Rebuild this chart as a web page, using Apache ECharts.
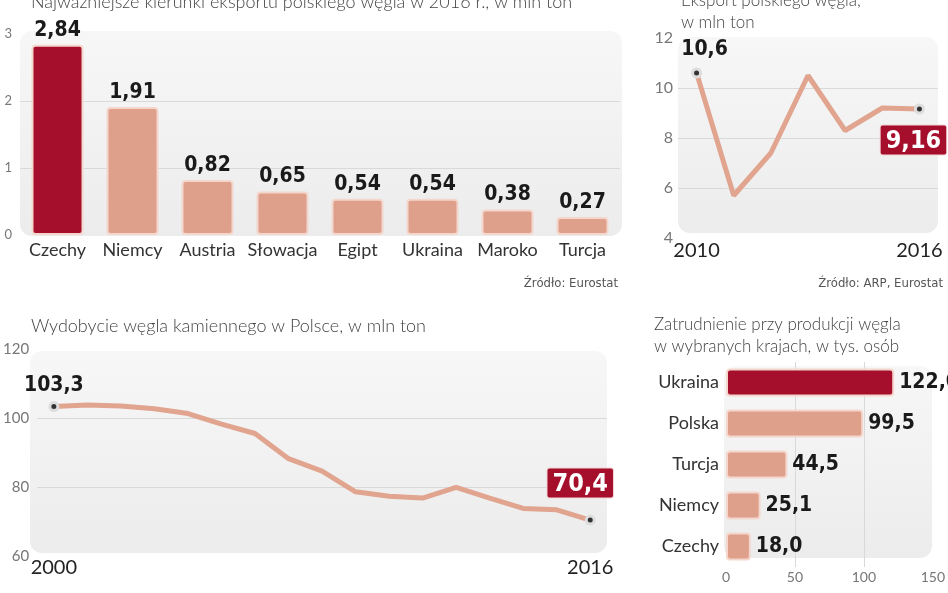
<!DOCTYPE html>
<html><head><meta charset="utf-8">
<script src="https://cdn.jsdelivr.net/npm/echarts@6/dist/echarts.min.js"></script>
<style>html,body{margin:0;padding:0;background:#fff}#c{width:948px;height:593px}</style>
</head><body><div id="c"></div>
<script>
// ---- data ----
const exportCountries = ['Czechy','Niemcy','Austria','Słowacja','Egipt','Ukraina','Maroko','Turcja'];
const exportValues = [2.84,1.91,0.82,0.65,0.54,0.54,0.38,0.27];
const exportYears = ['2010','2011','2012','2013','2014','2015','2016'];
const exportTotals = [10.6,5.7,7.4,10.5,8.3,9.2,9.16];
const miningYears = ['2000','2001','2002','2003','2004','2005','2006','2007','2008','2009','2010','2011','2012','2013','2014','2015','2016'];
const miningValues = [103.3,103.8,103.5,102.7,101.3,98.2,95.5,88.2,84.6,78.6,77.3,76.8,79.9,76.8,73.8,73.4,70.4];
const employCountries = ['Ukraina','Polska','Turcja','Niemcy','Czechy'];
const employValues = [122.0,99.5,44.5,25.1,18.0];
const exportTicks = [0,1,2,3];
const totalTicks = [4,6,8,10,12];
const miningTicks = [60,80,100,120];
const employTicks = [0,50,100,150];

// ---- style ----
const DARK = '#a50f2c', SALMON = '#dea08a', LINE = '#e0a48f', BORDER = '#f4d6cc';
const NARROW = "'Liberation Sans Narrow','DejaVu Sans Condensed','Roboto Condensed',sans-serif";
const SANS = "Lato,'Open Sans',sans-serif";
const comma = (v, d) => v.toFixed(d).replace('.', ',');
const bg = (x, y, w, h) => ({
  type: 'rect', z: -10, shape: {x, y, width: w, height: h, r: 12},
  style: {fill: new echarts.graphic.LinearGradient(0,0,0,1,[{offset:0,color:'#f7f7f7'},{offset:1,color:'#ececec'}])}
});
const valLabel = {show: true, fontFamily: NARROW, fontWeight: 'bold', fontSize: 21, color: '#1a1a1a'};
const boxLabel = {show: true, fontFamily: NARROW, fontWeight: 'bold', fontSize: 25, color: '#fff',
  backgroundColor: DARK, padding: [3, 5, 1, 5], borderColor: '#f0d4d4', borderWidth: 1, borderRadius: 2};
const gridLine = {show: true, showMinLine: false, showMaxLine: false, lineStyle: {color: '#d9d9d9', width: 1}};
const yLab = (size, margin) => ({color: '#777', fontFamily: SANS, fontSize: size, margin});
const titleStyle = (size) => ({fontFamily: SANS, fontWeight: 300, fontSize: size, color: '#444', lineHeight: 22});

const chart = echarts.init(document.getElementById('c'));
chart.setOption({
  animation: false,
  title: [
    {text: 'Najważniejsze kierunki eksportu polskiego węgla w 2016 r., w mln ton', left: 26, top: -14, textStyle: titleStyle(18)},
    {text: 'Eksport polskiego węgla,\nw mln ton', left: 676, top: -15, textStyle: titleStyle(17)},
    {text: 'Wydobycie węgla kamiennego w Polsce, w mln ton', left: 26, top: 310, textStyle: titleStyle(18)},
    {text: 'Zatrudnienie przy produkcji węgla\nw wybranych krajach, w tys. osób', left: 649, top: 309, textStyle: titleStyle(17)},
    {text: 'Źródło: Eurostat', right: 325, top: 272,
      textStyle: {fontFamily: NARROW, fontWeight: 'normal', fontSize: 13, color: '#555'}},
    {text: 'Źródło: ARP, Eurostat', right: 0, top: 272,
      textStyle: {fontFamily: NARROW, fontWeight: 'normal', fontSize: 13, color: '#555'}}
  ],
  graphic: [bg(20, 31, 602, 205), bg(678, 37, 260, 196), bg(30, 351, 577, 202), bg(724, 366, 208, 192)],
  grid: [
    {left: 20, top: 34, width: 600, height: 201},
    {left: 678, top: 38, width: 260, height: 200},
    {left: 30, top: 349, width: 577, height: 207},
    {left: 726, top: 362, width: 207, height: 205}
  ],
  xAxis: [
    {gridIndex: 0, type: 'category', data: exportCountries, axisLine: {show: false}, axisTick: {show: false},
      axisLabel: {color: '#333', fontFamily: SANS, fontSize: 18, margin: 6, interval: 0}},
    {gridIndex: 1, type: 'category', data: exportYears, axisLine: {show: false}, axisTick: {show: false},
      axisLabel: {color: '#222', fontFamily: SANS, fontSize: 20, margin: 3,
        interval: (i) => i === 0 || i === exportYears.length - 1}},
    {gridIndex: 2, type: 'category', data: miningYears, axisLine: {show: false}, axisTick: {show: false},
      axisLabel: {color: '#222', fontFamily: SANS, fontSize: 20, margin: 2,
        interval: (i) => i === 0 || i === miningYears.length - 1}},
    {gridIndex: 3, type: 'value', min: employTicks[0], max: employTicks[employTicks.length-1], interval: 50,
      axisLine: {show: false}, axisTick: {show: false}, splitLine: gridLine, axisLabel: yLab(14, 3)}
  ],
  yAxis: [
    {gridIndex: 0, type: 'value', min: exportTicks[0], max: exportTicks[exportTicks.length-1], interval: 1,
      axisLine: {show: false}, axisTick: {show: false}, splitLine: gridLine, axisLabel: yLab(13, 8)},
    {gridIndex: 1, type: 'value', min: totalTicks[0], max: totalTicks[totalTicks.length-1], interval: 2,
      axisLine: {show: false}, axisTick: {show: false}, splitLine: gridLine, axisLabel: yLab(16, 5)},
    {gridIndex: 2, type: 'value', min: miningTicks[0], max: miningTicks[miningTicks.length-1], interval: 20,
      axisLine: {show: false}, axisTick: {show: false}, splitLine: gridLine, axisLabel: yLab(15, 8)},
    {gridIndex: 3, type: 'category', data: employCountries, inverse: true, axisLine: {show: false}, axisTick: {show: false},
      axisLabel: {color: '#333', fontFamily: SANS, fontSize: 18, margin: 7}}
  ],
  series: [
    {type: 'bar', xAxisIndex: 0, yAxisIndex: 0, barWidth: 52, z: 5,
      data: exportValues.map((v, i) => ({value: v, itemStyle: {color: i === 0 ? DARK : SALMON}})),
      itemStyle: {borderColor: BORDER, borderWidth: 2, borderRadius: 3},
      label: Object.assign({}, valLabel, {position: 'top', distance: 4, formatter: (p) => comma(p.value, 2)})},
    {type: 'line', xAxisIndex: 1, yAxisIndex: 1, z: 5,
      lineStyle: {color: LINE, width: 5}, symbol: 'none',
      data: exportTotals.map((v, i) => {
        if (i === 0) return {value: v, symbol: 'circle', symbolSize: 8,
          itemStyle: {color: '#333', borderColor: '#ddd', borderWidth: 3},
          label: Object.assign({}, valLabel, {position: 'top', distance: 7, offset: [8, 0], formatter: comma(v, 1)})};
        if (i === exportTotals.length - 1) return {value: v, symbol: 'circle', symbolSize: 8,
          itemStyle: {color: '#333', borderColor: '#ddd', borderWidth: 3},
          label: Object.assign({}, boxLabel, {position: 'bottom', distance: 11, offset: [-6, 0], formatter: comma(v, 2)})};
        return v;
      })},
    {type: 'line', xAxisIndex: 2, yAxisIndex: 2, z: 5,
      lineStyle: {color: LINE, width: 5}, symbol: 'none',
      data: miningValues.map((v, i) => {
        if (i === 0) return {value: v, symbol: 'circle', symbolSize: 8,
          itemStyle: {color: '#333', borderColor: '#ddd', borderWidth: 3},
          label: Object.assign({}, valLabel, {position: 'top', distance: 5, formatter: comma(v, 1)})};
        if (i === miningValues.length - 1) return {value: v, symbol: 'circle', symbolSize: 8,
          itemStyle: {color: '#333', borderColor: '#ddd', borderWidth: 3},
          label: Object.assign({}, boxLabel, {position: 'top', distance: 17, offset: [-10, 0], formatter: comma(v, 1)})};
        return v;
      })},
    {type: 'bar', xAxisIndex: 3, yAxisIndex: 3, barWidth: 28, z: 5,
      data: employValues.map((v, i) => ({value: v, itemStyle: {color: i === 0 ? DARK : SALMON}})),
      itemStyle: {borderColor: BORDER, borderWidth: 2, borderRadius: 3},
      label: Object.assign({}, valLabel, {position: 'right', distance: 5, formatter: (p) => comma(p.value, 1)})}
  ]
});
</script></body></html>
